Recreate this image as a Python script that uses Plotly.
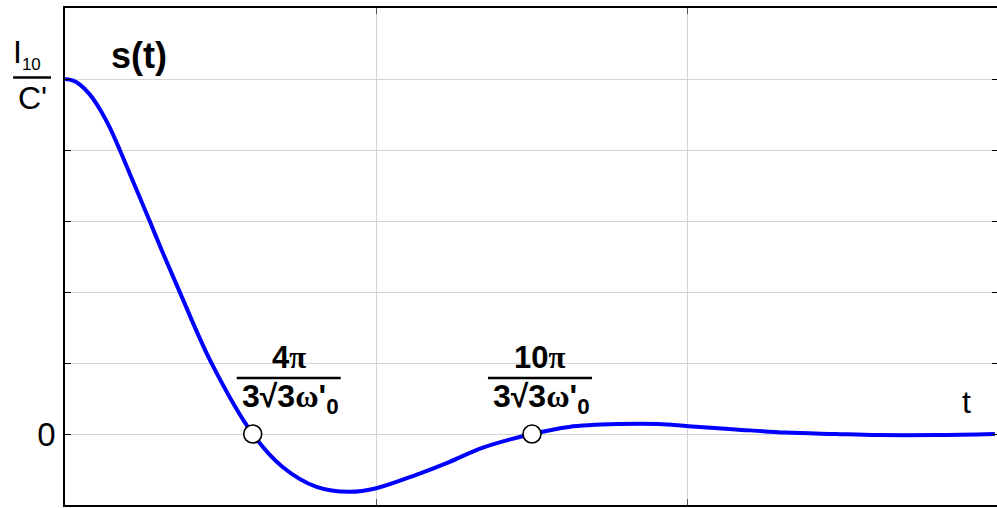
import plotly.graph_objects as go

# ---- data ----
t_vals = [0.0, 0.024, 0.048, 0.08, 0.112, 0.144, 0.176, 0.224, 0.272, 0.311, 0.369, 0.471, 0.603, 0.699,
          0.808, 0.913, 1.003, 1.128, 1.234, 1.340, 1.5, 1.619, 1.779, 1.907,
          2.003, 2.154, 2.314, 2.474, 2.612, 2.8, 2.987]
s_vals = [1.0, 0.996, 0.984, 0.956, 0.915, 0.863, 0.80, 0.70, 0.60, 0.517, 0.399, 0.199, 0.0, -0.093,
          -0.149, -0.163, -0.152, -0.115, -0.079, -0.039, 0.0, 0.020, 0.028, 0.028,
          0.022, 0.013, 0.004, 0.0, -0.003, -0.003, 0.0]
zero_t = [0.603, 1.5]
zero_s = [0.0, 0.0]
zero_num = ["4π", "10π"]
ygrid_vals = [-0.2, 0.0, 0.2, 0.4, 0.6, 0.8, 1.0, 1.2]
ylabel_vals = [0.0]
ylabel_text = ["0"]
xgrid_vals = [1, 2]

W, H = 1000, 508          # figure is 3 px wider than the window so the right frame line falls off-screen
ML, MR, MT, MB = 65, 0, 8, 3
PW, PH = W - ML - MR, H - MT - MB
X_MAX = 2.997

def px(x):
    return (x - ML) / PW

def py(y):
    return (H - MB - y) / PH

FONT = "Liberation Sans, Arial, sans-serif"

fig = go.Figure()
fig.add_trace(go.Scatter(x=t_vals, y=s_vals, mode="lines",
                         line=dict(color="#0000ff", width=4, shape="spline", smoothing=1.0),
                         hoverinfo="skip", showlegend=False))
fig.add_trace(go.Scatter(x=zero_t, y=zero_s, mode="markers",
                         marker=dict(size=18, color="white", line=dict(color="black", width=1.6)),
                         hoverinfo="skip", showlegend=False))

annotations = []
shapes = []
frac_xshift = [36, 8]
for tz, sz, num, xs in zip(zero_t, zero_s, zero_num, frac_xshift):
    annotations.append(dict(x=tz, y=sz, xref="x", yref="y", xshift=xs, yshift=77,
                            xanchor="center", yanchor="middle",
                            text="<b>" + num.replace("π", "<span style='font-family:Liberation Serif'>π</span>") + "</b>",
                            showarrow=False, font=dict(size=31, color="black", family=FONT)))
    annotations.append(dict(x=tz, y=sz, xref="x", yref="y", xshift=xs + 2, yshift=36,
                            xanchor="center", yanchor="middle",
                            text="<b>3√3<span style='font-family:Liberation Serif'>ω</span>'<sub>0</sub></b>",
                            showarrow=False, font=dict(size=32, color="black", family=FONT)))
    shapes.append(dict(type="line", xref="x", yref="y", xsizemode="pixel", ysizemode="pixel",
                       xanchor=tz, yanchor=sz, x0=xs - 52, x1=xs + 52, y0=56, y1=56,
                       line=dict(color="black", width=2.5)))

annotations.append(dict(x=px(139), y=py(56), xref="paper", yref="paper", text="<b>s(t)</b>",
                        xanchor="center", yanchor="middle",
                        showarrow=False, font=dict(size=36, color="black", family=FONT)))
annotations.append(dict(x=px(968), y=py(402), xref="paper", yref="paper", text="t",
                        xanchor="center", yanchor="middle",
                        showarrow=False, font=dict(size=32, color="black", family=FONT)))
annotations.append(dict(x=px(27), y=py(54), xref="paper", yref="paper",
                        text="I<sub><span style='font-size:17px'>10</span></sub>",
                        xanchor="center", yanchor="middle",
                        showarrow=False, font=dict(size=32, color="black", family=FONT)))
annotations.append(dict(x=px(32), y=py(98), xref="paper", yref="paper", text="C'",
                        xanchor="center", yanchor="middle",
                        showarrow=False, font=dict(size=32, color="black", family=FONT)))
shapes.append(dict(type="line", xref="paper", yref="paper", x0=px(13), x1=px(51), y0=py(77.5), y1=py(77.5),
                   line=dict(color="black", width=2.5)))

fig.update_layout(
    width=W, height=H,
    margin=dict(l=ML, r=MR, t=MT, b=MB),
    paper_bgcolor="white", plot_bgcolor="white",
    annotations=annotations, shapes=shapes,
    font=dict(family=FONT, color="black"),
)
fig.update_xaxes(range=[0, X_MAX], tickmode="array", tickvals=xgrid_vals, showticklabels=False,
                 showgrid=True, gridcolor="#d4d4d4", gridwidth=1, zeroline=False,
                 showline=True, linecolor="black", linewidth=1.5, mirror="allticks",
                 ticks="inside", ticklen=6, tickcolor="#555555")
fig.update_yaxes(range=[-0.2, 1.2], tickmode="array", tickvals=ylabel_vals, ticktext=ylabel_text,
                 showgrid=False, zeroline=False, showline=True, linecolor="black", linewidth=1.5,
                 mirror="allticks", ticks="inside", ticklen=6, tickcolor="black",
                 tickfont=dict(size=33, family=FONT, color="black"), ticklabelstandoff=1,
                 minor=dict(tickmode="array", tickvals=ygrid_vals, ticks="inside", ticklen=6,
                            tickcolor="black", showgrid=True, gridcolor="#d4d4d4", gridwidth=1))

fig.write_html("out.html", config={"displayModeBar": False},
               post_script="document.body.style.margin='0';document.body.style.overflow='hidden';")
